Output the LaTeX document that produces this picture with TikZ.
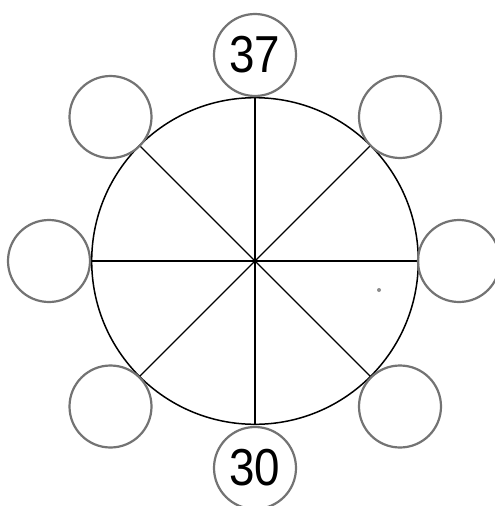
\documentclass[tikz,border=0pt]{standalone}
\usepackage{fontspec}
\setmainfont{Liberation Sans}
\newfontfamily\digitfont[FakeStretch=0.88]{Liberation Sans}
\begin{document}
\begin{tikzpicture}[x=1pt,y=-1pt,
  ring/.style={circle,draw=black!55,line width=2.2pt,minimum size=82pt,inner sep=0pt,
    font=\digitfont\fontsize{52}{52}\selectfont},
  wheel/.style={circle,draw=black,line width=1.5pt,minimum size=326.6pt,inner sep=0pt},
  spoke/.style={draw=black,line width=1.3pt}]
\useasboundingbox (0,0) rectangle (495,506);
\clip (0,0) rectangle (495,506);
\fill[white] (0,0) rectangle (495,506);
\coordinate (c) at (255,261);
\node[wheel] (big) at (c) {};
\draw[spoke] (big.north) -- (big.south);
\draw[spoke] (big.west) -- (big.east);
\draw[spoke] (big.135) -- (big.-45);
\draw[spoke] (big.45) -- (big.-135);
\node[ring] (t) at (255,55) {37};
\node[ring] (b) at (255,468) {30};
\node[ring] (l) at (49,261) {};
\node[ring] (r) at (459,261) {};
\node[ring] (tl) at (110.5,117) {};
\node[ring] (tr) at (400,117) {};
\node[ring] (bl) at (110.5,406.5) {};
\node[ring] (br) at (400,406.5) {};
\fill[black!45] (379,290) circle (2pt);
\end{tikzpicture}
\end{document}
